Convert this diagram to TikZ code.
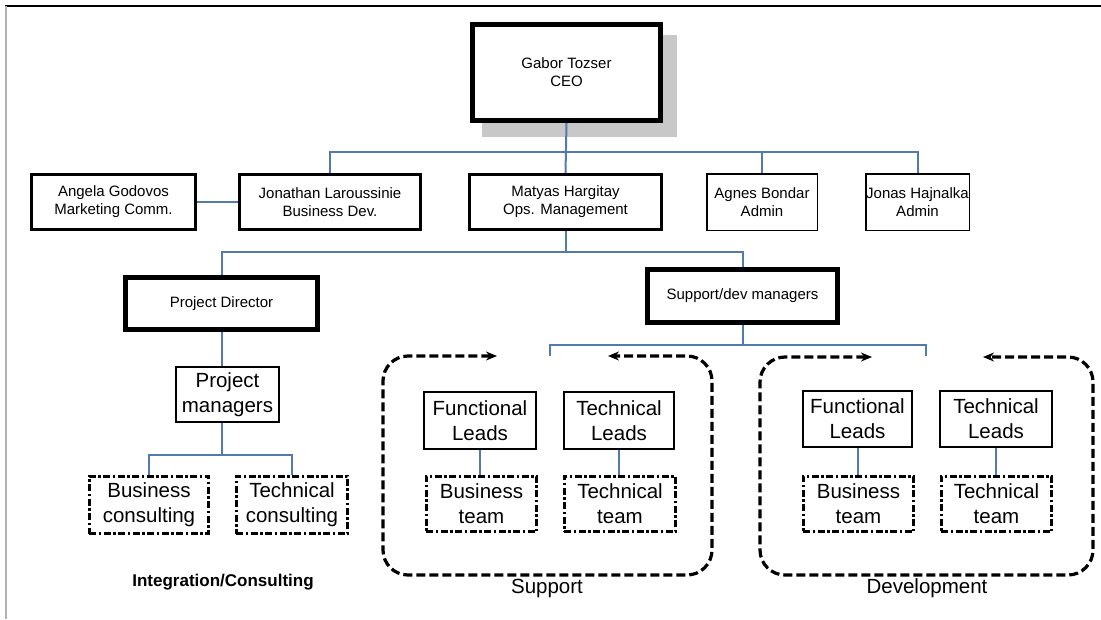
\documentclass[tikz,border=0pt]{standalone}
\usepackage{fontspec}
\setmainfont{Liberation Sans}
\usetikzlibrary{arrows.meta}
\definecolor{linkblue}{RGB}{82,122,172}
\definecolor{shadowgray}{RGB}{200,200,200}
\begin{document}
\begin{tikzpicture}[x=1pt,y=-1pt,
  box/.style={draw=black, fill=white, align=center, inner sep=0pt, text=black},
  smalltext/.style={font=\fontsize{15}{18}\selectfont},
  bigtext/.style={font=\fontsize{20.5}{25}\selectfont},
  heavybox/.style={box, smalltext, line width=5pt},
  midbox/.style={box, smalltext, line width=3pt},
  thinbox/.style={box, smalltext, line width=1.5pt},
  leadbox/.style={box, bigtext, line width=1.8pt},
  teambox/.style={box, bigtext, line width=2.8pt, dash pattern=on 7pt off 2.5pt on 2.5pt off 2.5pt},
  groupline/.style={line width=3.2pt, dash pattern=on 9pt off 4pt, rounded corners=25pt,
    {Stealth[length=11pt,width=9pt]}-{Stealth[length=11pt,width=9pt]}},
  link/.style={draw=linkblue, line width=2pt},
  caption/.style={text=black, inner sep=0pt}
]
\useasboundingbox (0,0) rectangle (1101,619);
% frame
\draw[line width=2pt] (5,6) -- (1101,6);
\draw[gray!60, line width=1.5pt] (6,6) -- (6,619);

% CEO with shadow
\fill[shadowgray] (482,35) rectangle (677,137);
\node[heavybox, minimum width=188pt, minimum height=96pt] (ceo) at (566.5,72.5) {Gabor Tozser\\CEO};

% second row
\node[midbox, minimum width=164pt, minimum height=55pt] (angela) at (113.5,202) {Angela Godovos\\Marketing Comm.};
\node[midbox, minimum width=181pt, minimum height=55pt] (jon) at (330,202) {Jonathan Laroussinie\\Business Dev.};
\node[midbox, minimum width=192pt, minimum height=55pt] (matyas) at (565.5,202) {Matyas Hargitay\\Ops. Management};
\node[thinbox, minimum width=110.5pt, minimum height=56.5pt] (agnes) at (762,202) {Agnes Bondar\\Admin};
\node[thinbox, minimum width=103.5pt, minimum height=56.5pt] (jonas) at (917.5,202) {Jonas Hajnalka\\Admin};

% third row
\node[heavybox, minimum width=192pt, minimum height=52pt] (pd) at (221.5,303.5) {Project Director};
\node[heavybox, minimum width=190pt, minimum height=53pt] (sdm) at (742.5,296) {Support/dev managers};

% integration / consulting
\node[leadbox, minimum width=103pt, minimum height=55pt] (pm) at (227.5,394.5) {Project\\managers};
\node[teambox, minimum width=119.5pt, minimum height=57.5pt] (bc) at (149,505) {Business\\consulting};
\node[teambox, minimum width=111.5pt, minimum height=57.5pt] (tc) at (292,505) {Technical\\consulting};

% support
\node[leadbox, minimum width=112pt, minimum height=57pt] (sfl) at (480,420.5) {Functional\\Leads};
\node[leadbox, minimum width=110pt, minimum height=57pt] (stl) at (619,420.5) {Technical\\Leads};
\node[teambox, minimum width=110.5pt, minimum height=55.5pt] (sbt) at (481.5,504) {Business\\team};
\node[teambox, minimum width=111.5pt, minimum height=55.5pt] (stt) at (620,504) {Technical\\team};

% development
\node[leadbox, minimum width=109pt, minimum height=56pt] (dfl) at (857.5,419) {Functional\\Leads};
\node[leadbox, minimum width=112pt, minimum height=56pt] (dtl) at (996,419) {Technical\\Leads};
\node[teambox, minimum width=110.5pt, minimum height=55.5pt] (dbt) at (858.5,504) {Business\\team};
\node[teambox, minimum width=110.5pt, minimum height=55.5pt] (dtt) at (996.5,504) {Technical\\team};

% captions
\node[caption, font=\bfseries\fontsize{17}{20}\selectfont] (intlbl) at (223,582) {Integration/Consulting};
\node[caption, font=\fontsize{20.5}{24}\selectfont] (suplbl) at (547,588) {Support};
\node[caption, font=\fontsize{20.5}{24}\selectfont] (devlbl) at (927,588) {Development};

% connectors
\draw[link] (ceo.south) -- (matyas.north);
\draw[link] (jon.north) -- ++(0,-21) -| (jonas.north);
\draw[link] (agnes.north) -- ++(0,-21);
\draw[link] (angela.east) -- (jon.west);
\draw[link] (matyas.south) -- ++(0,21);
\draw[link] (pd.north) -- ++(0,-23) -| (sdm.north);
\draw[link] (pd.south) -- (pd.south |- pm.north);
\draw[link] (pd.south |- pm.south) -- ++(0,32);
\draw[link] (bc.north) -- ++(0,-20) -| (tc.north);
\draw[link] (sdm.south) -- ++(0,20);
\coordinate (sl) at (550,356);
\coordinate (sr) at (926,356);
\draw[link] (sl) -- ++(0,-11) -| (sr);
\draw[link] (sfl.south) -- (sfl.south |- sbt.north);
\draw[link] (stl.south) -- (stl.south |- stt.north);
\draw[link] (dfl.south) -- (dfl.south |- dbt.north);
\draw[link] (dtl.south) -- (dtl.south |- dtt.north);

% group outlines
\draw[groupline] (497,356) -- (383,356) -- (383,575) -- (712,575) -- (712,356) -- (608,356);
\draw[groupline] (872,357) -- (760,357) -- (760,575) -- (1093,575) -- (1093,357) -- (983,357);
\end{tikzpicture}
\end{document}
